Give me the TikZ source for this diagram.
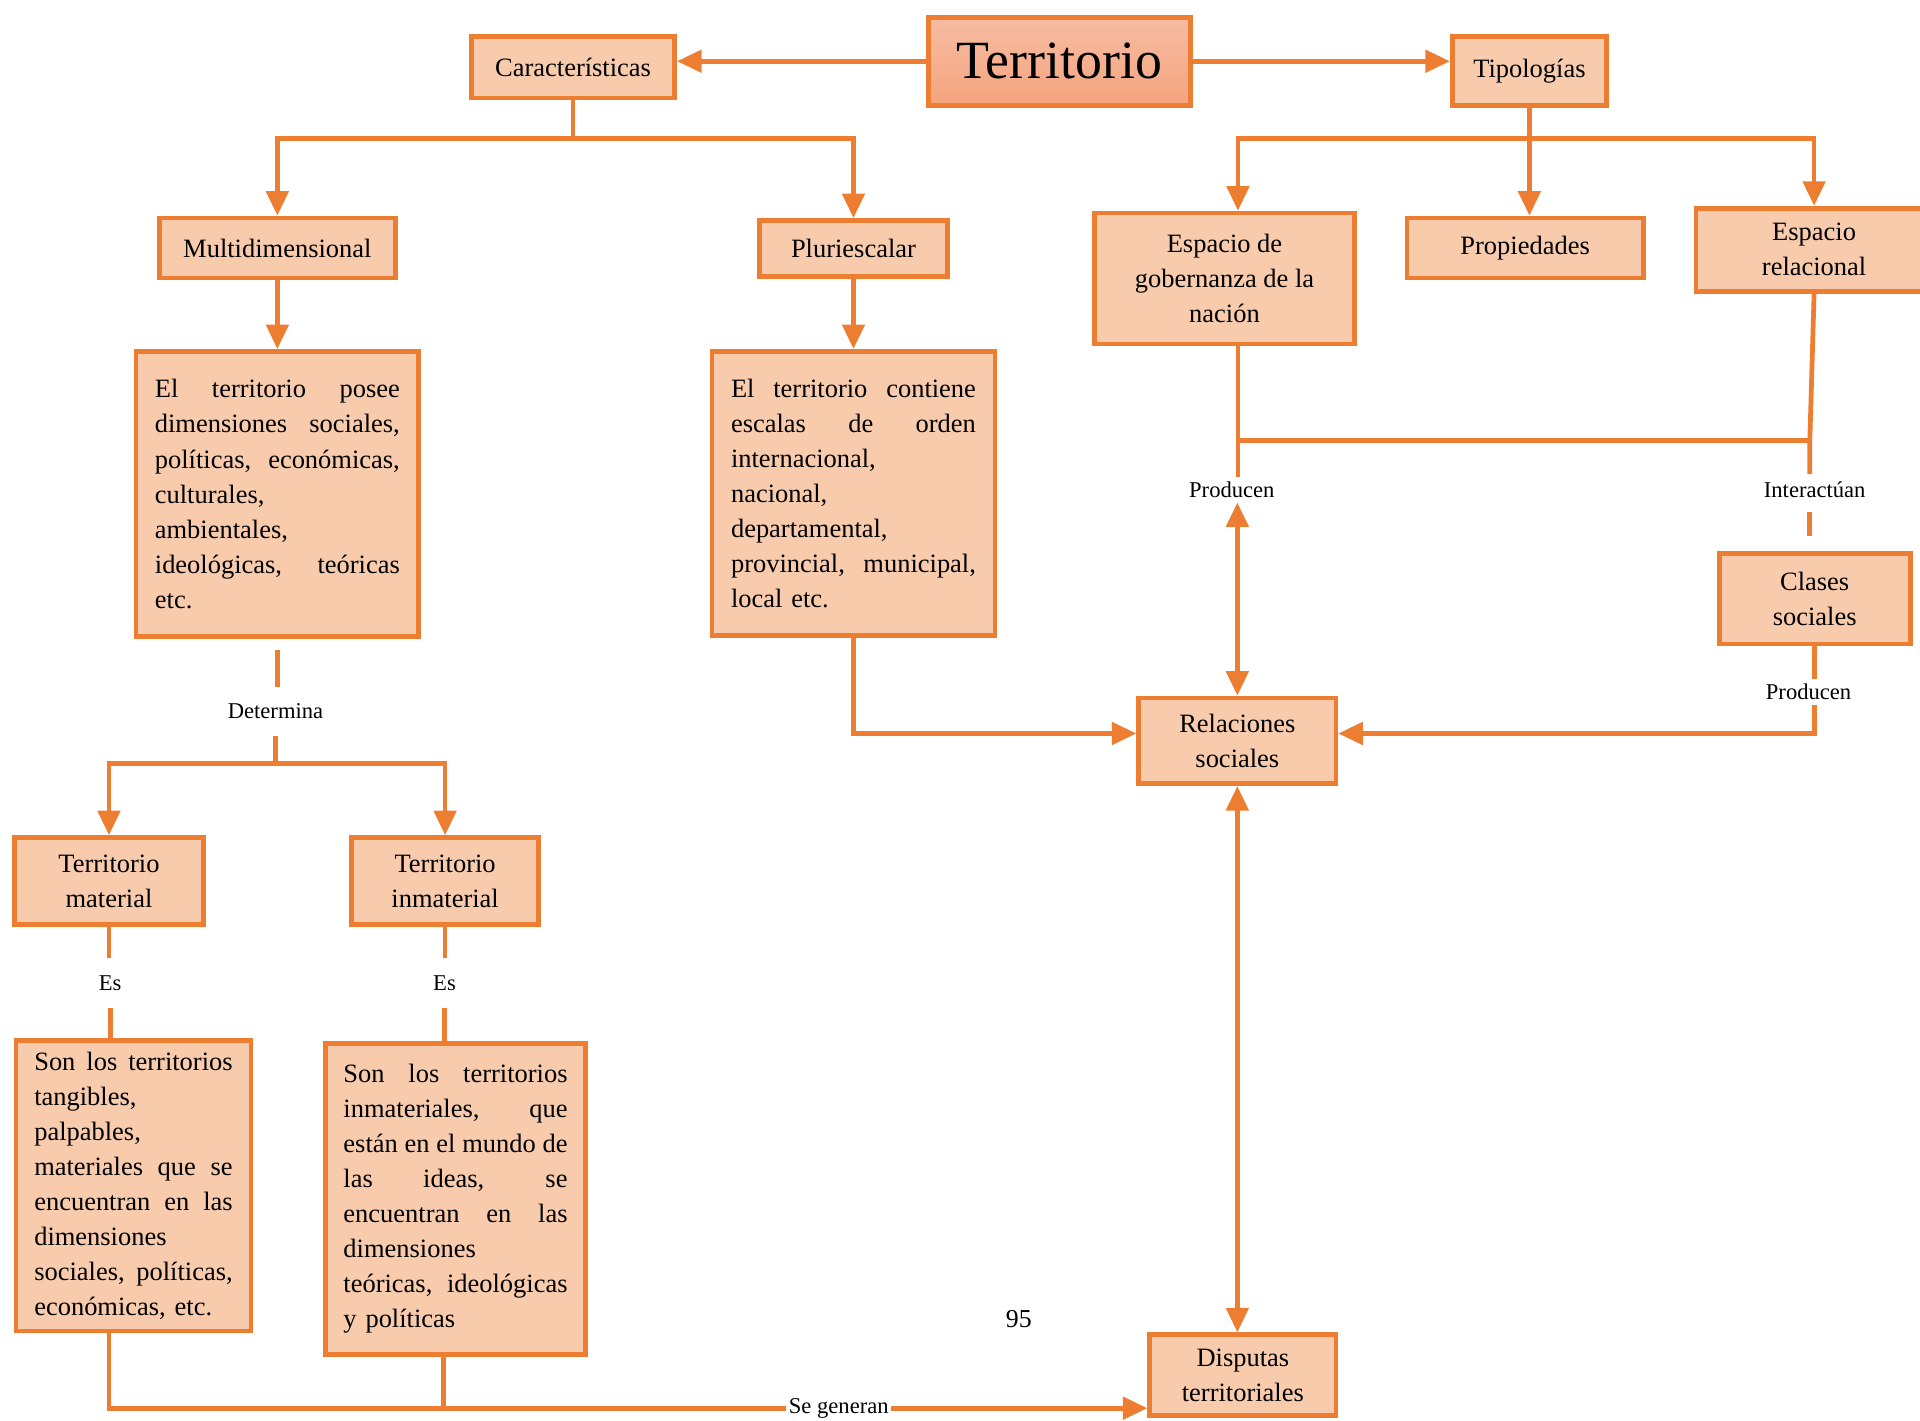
\documentclass[tikz,border=0pt]{standalone}
\usepackage{fontspec}
\setmainfont{Liberation Serif}
\usetikzlibrary{arrows.meta,positioning}
\definecolor{naranja}{HTML}{ED7D31}
\definecolor{durazno}{HTML}{F8CBAD}
\definecolor{terrarriba}{HTML}{F6BCA2}
\definecolor{terrabajo}{HTML}{F5A47E}
\newcommand{\jl}[1]{\makebox[\linewidth][s]{\spaceskip=0pt\relax #1}}
\begin{document}
\begin{tikzpicture}[x=0.2mm,y=-0.2mm,
	caja/.style={draw=naranja,fill=durazno,line width=2.2pt,align=center,font=\fontsize{12.3}{16.3}\selectfont},
	texto/.style={caja,align=left},
	linea/.style={draw=naranja,line width=2.2pt},
	flecha/.style={linea,-{Triangle[length=4mm,width=3.6mm]}},
	doble/.style={linea,{Triangle[length=4mm,width=3.6mm]}-{Triangle[length=4mm,width=3.6mm]}},
	etiqueta/.style={font=\fontsize{10.5}{12}\selectfont,inner sep=1pt,minimum height=8mm}]
	\useasboundingbox (0,0) rectangle (1568,1160);
	\node[caja,font=\fontsize{25}{30}\selectfont,top color=terrarriba,bottom color=terrabajo,minimum width=42.8mm,minimum height=14.4mm] (territorio) at (865,50) {Territorio};
	\node[caja,minimum width=33.2mm,minimum height=10mm] (caracteristicas) at (468,55) {Características};
	\node[caja,minimum width=25.2mm,minimum height=11.2mm] (tipologias) at (1249,58) {Tipologías};
	\node[caja,minimum width=38.6mm,minimum height=9.8mm] (multi) at (226.5,202.5) {Multidimensional};
	\node[caja,minimum width=30.6mm,minimum height=9.2mm] (pluri) at (697,203) {Pluriescalar};
	\node[texto,text width=40mm,inner xsep=3.1mm,minimum height=46.6mm] (descmulti) at (226.5,403.5) {\jl{El territorio posee}\\ \jl{dimensiones sociales,}\\ \jl{políticas, económicas,}\\ culturales,\\ ambientales,\\ \jl{ideológicas, teóricas}\\ etc.};
	\node[texto,text width=40mm,inner xsep=3.1mm,minimum height=46.4mm] (descpluri) at (697,403) {\jl{El territorio contiene}\\ \jl{escalas de orden}\\ internacional,\\ nacional,\\ departamental,\\ \jl{provincial, municipal,}\\ local etc.};
	\node[caja,minimum width=30.8mm,minimum height=14.2mm] (tmat) at (89,719.5) {Territorio\\material};
	\node[caja,minimum width=30.6mm,minimum height=14.2mm] (tinmat) at (363.5,719.5) {Territorio\\inmaterial};
	\node[texto,text width=32.4mm,inner xsep=3mm,minimum height=47.4mm] (descmat) at (109,968.5) {\jl{Son los territorios}\\ tangibles,\\ palpables,\\ \jl{materiales que se}\\ \jl{encuentran en las}\\ dimensiones\\ \jl{sociales, políticas,}\\ económicas, etc.};
	\node[texto,text width=36.6mm,inner xsep=2.9mm,minimum height=50.8mm] (descinmat) at (372,979) {\jl{Son los territorios}\\ \jl{inmateriales, que}\\ \jl{están en el mundo de}\\ \jl{las ideas, se}\\ \jl{encuentran en las}\\ dimensiones\\ \jl{teóricas, ideológicas}\\ y políticas};
	\node[caja,minimum width=42.4mm,minimum height=21.4mm] (gobernanza) at (1000,227.5) {Espacio de\\gobernanza de la\\nación};
	\node[caja,minimum width=38.6mm,minimum height=9.8mm] (propiedades) at (1245.5,202.5) {Propiedades};
	\node[caja,minimum width=38.6mm,minimum height=13.6mm] (relacional) at (1481.5,204) {Espacio\\relacional};
	\node[caja,minimum width=31.2mm,minimum height=14.8mm] (clases) at (1482,489) {Clases\\sociales};
	\node[caja,minimum width=32.2mm,minimum height=14mm] (relsoc) at (1010.5,605) {Relaciones\\sociales};
	\node[caja,minimum width=30.4mm,minimum height=13.2mm] (disputas) at (1015,1123) {Disputas\\territoriales};
	\node[font=\fontsize{12}{14}\selectfont] (pagina) at (832,1077) {95};
	\node[etiqueta,minimum height=4mm] (producen1) at (1006,400) {Producen};
	\node[etiqueta,minimum height=5mm] (interactuan) at (1482,400) {Interactúan};
	\node[etiqueta,minimum height=4mm] (producen2) at (1477,565) {Producen};
	\node[etiqueta] (determina) at (225,581) {Determina};
	\node[etiqueta] (es1) at (90,803) {Es};
	\node[etiqueta] (es2) at (363,803) {Es};
	\node[etiqueta] (segeneran) at (685,1150) {Se generan};
	\coordinate (unionizq) at (1011,360);
	\coordinate (unionder) at (1478,360);
	\draw[flecha] (territorio.west) -- (territorio.west -| caracteristicas.east);
	\draw[flecha] (territorio.east) -- (territorio.east -| tipologias.west);
	\draw[flecha] (caracteristicas.south) -- ++(0,31) -| (multi.north);
	\draw[flecha] (caracteristicas.south) ++(0,31) -| (pluri.north);
	\draw[flecha] (multi.south) -- (descmulti.north);
	\draw[flecha] (pluri.south) -- (descpluri.north);
	\draw[flecha] (tipologias.south) -- ++(0,25) -| ([xshift=2.2mm]gobernanza.north);
	\draw[flecha] (tipologias.south) ++(0,25) -| (relacional.north);
	\draw[flecha] (tipologias.south) -- (tipologias.south |- propiedades.north);
	\draw[linea] ([xshift=2.2mm]gobernanza.south) -- ([xshift=2.2mm]gobernanza.south |- producen1.north);
	\draw[linea] (unionizq) -- (unionder);
	\draw[linea] (relacional.south) -- (unionder) -- (unionder |- interactuan.north);
	\draw[linea] (unionder |- interactuan.south) ++(0,5) -- ++(0,20);
	\draw[doble] (producen1.south -| relsoc.north) -- (relsoc.north);
	\draw[linea] (clases.south) -- (clases.south |- producen2.north);
	\draw[flecha] (clases.south |- producen2.south) |- ([yshift=1.2mm]relsoc.east);
	\draw[flecha] (descpluri.south) |- ([yshift=1.2mm]relsoc.west);
	\draw[doble] (relsoc.south) -- (relsoc.south |- disputas.north);
	\draw[linea] ([yshift=-1.8mm]descmulti.south) -- (descmulti.south |- determina.north);
	\draw[flecha] (determina.south) -- ++(0,22) -| (tmat.north);
	\draw[flecha] (determina.south) ++(0,22) -| (tinmat.north);
	\draw[linea] (tmat.south) -- (tmat.south |- es1.north);
	\draw[linea] (es1.south) -- (es1 |- descmat.north);
	\draw[linea] (tinmat.south) -- (tinmat.south |- es2.north);
	\draw[linea] (es2.south) -- (es2 |- descinmat.north);
	\draw[linea] ([xshift=-4mm]descmat.south) |- (segeneran.west);
	\draw[linea] ([xshift=-2mm]descinmat.south) -- ([xshift=-2mm]descinmat.south |- segeneran.west);
	\draw[flecha] (segeneran.east) -- (segeneran.east -| disputas.west);
\end{tikzpicture}
\end{document}
